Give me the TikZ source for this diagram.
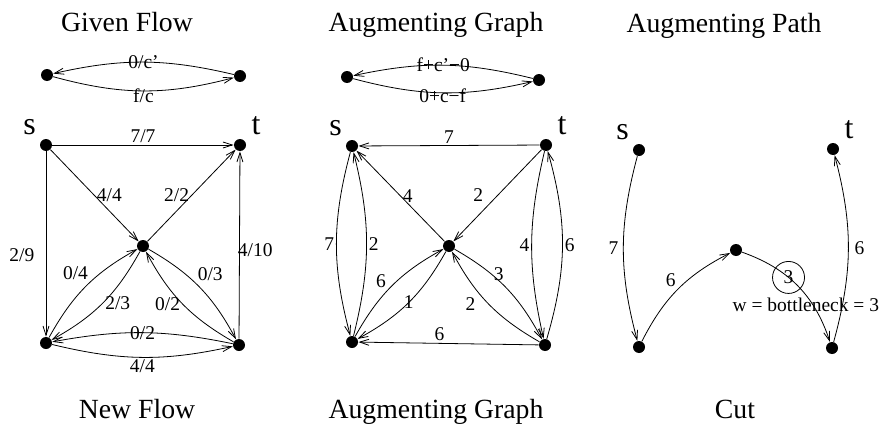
\documentclass[tikz,border=0pt]{standalone}
\usepackage{fontspec}
\setmainfont{Liberation Serif}
\usetikzlibrary{arrows.meta,positioning}

\begin{document}
\begin{tikzpicture}[
            x=0.75pt, y=0.75pt,
            line width=0.6pt,
            >={Straight Barb[length=7pt,width=4.5pt]},
            vertex/.style={
                circle,
                fill,
                minimum size=9pt,
                inner sep=0pt
            },
            lbl/.style={
                font=\fontsize{14.6}{16}\selectfont,
                inner sep=1.5pt
            },
            endname/.style={
                font=\fontsize{24}{28}\selectfont,
                inner sep=1pt
            },
            heading/.style={
                font=\fontsize{20.8}{24}\selectfont,
                inner sep=0pt,
                anchor=base
            }
        ]

            \useasboundingbox (0, 0) rectangle (882, 426);

            \node[heading] (given) at (127, 394) {Given Flow};
            \node[heading] (augtop) at (436, 394) {Augmenting Graph};
            \node[heading] (pathtop) at (724, 393) {Augmenting Path};
            \node[heading] (newflow) at (137, 8) {New Flow};
            \node[heading] (augbot) at (436, 8) {Augmenting Graph};
            \node[heading] (cut) at (735, 8) {Cut};


            \node[vertex] (a1) at (47, 351) {};
            \node[vertex] (b1) at (240, 350) {};
            \node[vertex] (s1) at (46, 281) {};
            \node[vertex] (t1) at (240, 281) {};
            \node[vertex] (m1) at (143, 180) {};
            \node[vertex] (l1) at (46, 83) {};
            \node[vertex] (r1) at (239, 81) {};

            \node[endname, above left=3pt and 3pt of s1] (sname1) {s};
            \node[endname, above right=3pt and 4pt of t1] (tname1) {t};

            \draw[->] (b1) to[bend right=13] node[lbl, midway] {0/c'} (a1);
            \draw[->] (a1) to[bend right=15] node[lbl, midway, yshift=-4pt] {f/c} (b1);

            \draw[->] (s1) -- (t1) node[lbl, midway, above] {7/7};
            \draw[->] (s1) -- (m1) node[lbl, midway, right] {4/4};
            \draw[->] (m1) -- (t1) node[lbl, midway, left] {2/2};
            \draw[->] (s1) -- (l1) node[lbl, pos=0.56, left=7pt] {2/9};
            \draw[->] (r1) -- (t1) node[lbl, pos=0.47, right=-3pt] {4/10};

            \draw[->] (l1) to[bend left=16] node[lbl, pos=0.55, above left] {0/4} (m1);
            \draw[->] (m1) to[bend left=16] node[lbl, midway, right] {2/3} (l1);
            \draw[->] (r1) to[bend left=16] node[lbl, midway, left] {0/2} (m1);
            \draw[->] (m1) to[bend left=16] node[lbl, pos=0.45, above right] {0/3} (r1);

            \draw[->] (r1) to[bend right=11] node[lbl, midway] {0/2} (l1);
            \draw[->] (l1) to[bend right=13] node[lbl, midway, below] {4/4} (r1);


            \node[vertex] (a2) at (347, 349) {};
            \node[vertex] (b2) at (539, 346) {};
            \node[vertex] (s2) at (352, 280) {};
            \node[vertex] (t2) at (546, 281) {};
            \node[vertex] (m2) at (449, 180) {};
            \node[vertex] (l2) at (352, 84) {};
            \node[vertex] (r2) at (545, 81) {};

            \node[endname, above left=3pt and 3pt of s2] (sname2) {s};
            \node[endname, above right=3pt and 4pt of t2] (tname2) {t};

            \draw[->] (b2) to[bend right=13] node[lbl, midway] {f+c'−0} (a2);
            \draw[->] (a2) to[bend right=14] node[lbl, midway, yshift=-2pt] {0+c−f} (b2);

            \draw[->] (t2) -- (s2) node[lbl, midway, above] {7};
            \draw[->] (m2) -- (s2) node[lbl, midway, right] {4};
            \draw[->] (t2) -- (m2) node[lbl, midway, left=9pt] {2};

            \draw[->] (s2) to[bend right=15] node[lbl, midway, left] {7} (l2);
            \draw[->] (l2) to[bend right=14] node[lbl, midway, right] {2} (s2);

            \draw[->] (l2) to[bend left=16] node[lbl, pos=0.45, above left] {6} (m2);
            \draw[->] (m2) to[bend left=16] node[lbl, midway] {1} (l2);
            \draw[->] (r2) to[bend left=16] node[lbl, midway, left=8pt] {2} (m2);
            \draw[->] (m2) to[bend left=16] node[lbl, pos=0.42, above=-2pt] {3} (r2);

            \draw[->] (r2) -- (l2) node[lbl, pos=0.55, above] {6};
            \draw[->] (t2) to[bend right=13] node[lbl, midway, left] {4} (r2);
            \draw[->] (r2) to[bend right=16] node[lbl, midway, right] {6} (t2);


            \node[vertex] (s3) at (639, 276) {};
            \node[vertex] (t3) at (833, 277) {};
            \node[vertex] (m3) at (736, 176) {};
            \node[vertex] (l3) at (639, 79) {};
            \node[vertex] (r3) at (832, 78) {};

            \node[endname, above left=3pt and 3pt of s3] (sname3) {s};
            \node[endname, above right=3pt and 4pt of t3] (tname3) {t};

            \draw[->] (s3) to[bend right=15] node[lbl, midway, left=2pt] {7} (l3);
            \draw[->] (l3) to[bend left=18] node[lbl, midway, above left] {6} (m3);
            \draw[->] (m3) to[bend left=26]
                node[lbl, pos=0.4, circle, draw, minimum size=24pt, inner sep=0pt] (neck) {3} (r3);
            \node[lbl, below=1pt of neck, xshift=13pt] (neckinfo) {w = bottleneck = 3};
            \draw[->] (r3) to[bend right=15] node[lbl, midway, right=3pt] {6} (t3);

        \end{tikzpicture}
\end{document}
